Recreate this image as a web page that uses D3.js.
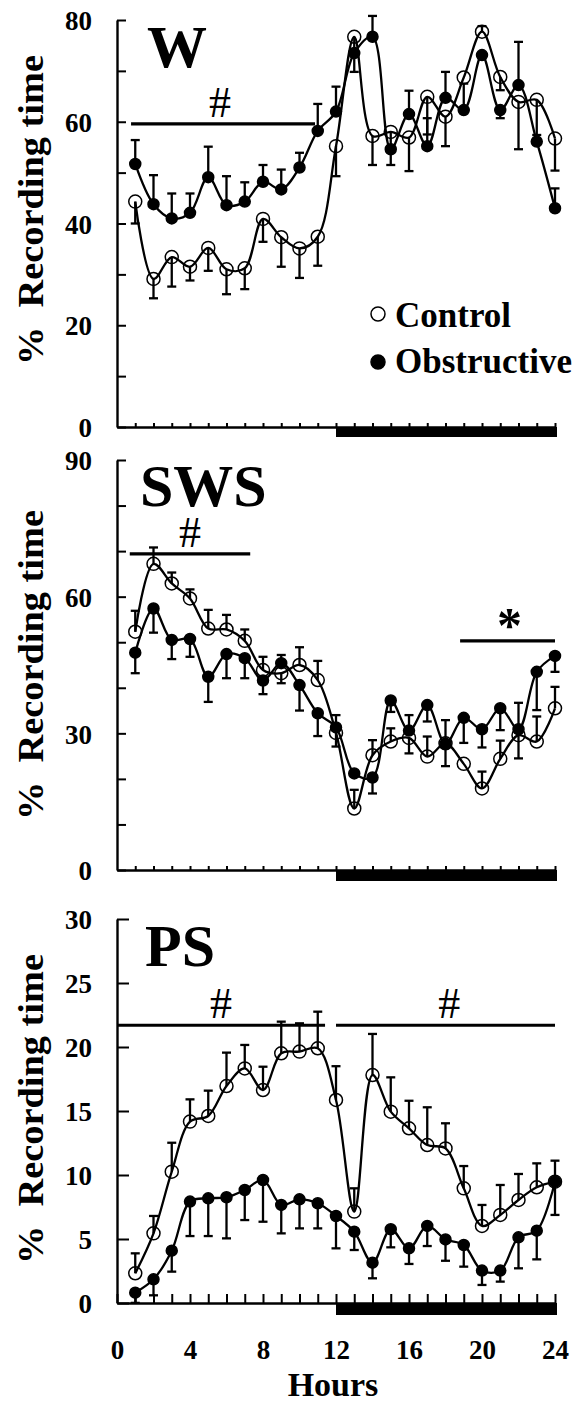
<!DOCTYPE html>
<html>
<head>
<meta charset="utf-8">
<script src="https://cdn.jsdelivr.net/npm/d3@7"></script>
<style>
  body { margin: 0; background: #fff; }
  text { font-family: "Liberation Serif", "Times New Roman", serif; font-weight: bold; fill: #000; }
</style>
</head>
<body>
<div id="chart"></div>
<script>
// hours of recording
const hours = d3.range(1, 25);
const xTickLabels = [0, 4, 8, 12, 16, 20, 24];

// W (wakefulness), % recording time; err = signed SEM (+ up, - down, null none)
const wControl = [44.3, 29.1, 33.4, 31.5, 35.2, 31.0, 31.2, 40.9, 37.3, 35.1, 37.4, 55.2,
                  76.7, 57.2, 58.0, 56.9, 64.9, 61.0, 68.7, 77.7, 68.8, 63.9, 64.3, 56.7];
const wControlErr = [-4.3, -3.8, -5.8, -2.7, -4.5, -4.9, -4.1, -4.5, -5.8, -5.8, -5.7, -5.9,
                     -6.9, -5.7, -6.5, -6.6, -7.4, -5.8, null, 1.1, -2.6, -9.3, -6.9, -6.3];
const wObstr = [51.7, 43.8, 41.0, 42.1, 49.1, 43.6, 44.3, 48.2, 46.7, 51.0, 58.2, 62.0,
                73.5, 76.7, 54.6, 61.5, 55.2, 64.7, 62.3, 73.1, 62.3, 67.2, 56.1, 43.0];
const wObstrErr = [4.7, 5.7, 4.9, 3.8, 6.0, 5.7, 3.8, 3.3, 3.9, 2.9, 5.3, 4.9,
                   null, 4.1, null, 4.6, 5.5, 5.1, 5.2, null, -1.6, 8.5, null, 3.9];

// SWS (slow wave sleep)
const swsControl = [52.3, 67.2, 62.9, 59.6, 53.0, 52.8, 50.3, 43.9, 43.2, 45.0, 41.7, 30.1,
                    13.5, 25.2, 28.2, 29.0, 24.9, 27.8, 23.3, 17.9, 24.4, 29.6, 28.2, 35.5];
const swsControlErr = [4.6, 3.6, 2.4, 2.0, 4.1, 3.2, 2.5, 2.9, -2.2, 3.9, 4.2, -3.0,
                       4.1, 3.3, 2.9, -3.4, 4.4, -5.0, null, 3.7, 4.0, -5.1, 5.5, 4.7];
const swsObstr = [47.7, 57.4, 50.5, 50.7, 42.4, 47.4, 46.5, 41.6, 45.4, 40.6, 34.4, 31.3,
                  21.2, 20.3, 37.2, 30.6, 36.2, 27.7, 33.4, 30.9, 35.5, 30.9, 43.5, 47.0];
const swsObstrErr = [-4.5, -5.3, -4.2, -3.9, -5.5, -5.3, -4.4, -3.0, 1.8, -5.6, -5.0, 2.7,
                     null, -3.5, -2.5, 3.4, -3.6, 5.2, -5.5, -4.0, -4.8, 5.8, -8.4, -3.5];

// PS (paradoxical sleep)
const psControl = [2.32, 5.44, 10.26, 14.17, 14.61, 16.95, 18.33, 16.64, 19.51, 19.64, 19.9, 15.86,
                   7.14, 17.81, 14.95, 13.65, 12.34, 12.08, 8.96, 6.02, 6.88, 8.05, 9.04, 9.48];
const psControlErr = [1.56, 1.36, 2.26, 1.74, 1.98, 2.61, 1.83, 1.82, 2.47, 2.21, 2.86, 2.64,
                      1.82, 3.21, 2.68, 2.15, 2.95, 1.96, 1.74, 1.64, 2.34, 2.03, 1.87, 1.64];
const psObstr = [0.81, 1.85, 4.09, 7.92, 8.18, 8.26, 8.83, 9.61, 7.66, 8.1, 7.79, 6.8,
                 5.57, 3.15, 5.76, 4.27, 6.02, 4.97, 4.53, 2.53, 2.53, 5.13, 5.65, 9.48];
const psObstrErr = [-0.8, -1.25, -1.64, -2.69, -2.95, -3.21, -2.35, -3.26, -2.22, -2.27, -1.96, -2.53,
                    -1.43, -1.22, -1.41, -1.22, -1.57, -1.67, -1.69, -1.12, -0.86, -2.42, -2.24, -2.6];

// significance bars: hour span, level, symbol
const wSig = [{ from: 0.77, to: 10.85, level: 59.6, mark: "#", at: 5.65 }];
const swsSig = [{ from: 0.7, to: 7.3, level: 69.4, mark: "#", at: 4.0 },
                { from: 18.8, to: 24.0, level: 50.3, mark: "*", at: 21.5 }];
const psSig = [{ from: 0, to: 11.4, level: 21.7, mark: "#", at: 5.7 },
               { from: 12, to: 24, level: 21.7, mark: "#", at: 18.2 }];

const width = 587, height = 1403;
const svg = d3.select("#chart").append("svg")
    .attr("width", width)
    .attr("height", height);

const x = d3.scaleLinear().domain([0, 24]).range([117, 555]);

const panels = [
    { name: "W", max: 80, minor: 10, major: 20, top: 20, bottom: 427, tick: 4, bar: 10,
      titleX: 147, titleY: 67, labelY: 210,
      control: wControl, controlErr: wControlErr, obstr: wObstr, obstrErr: wObstrErr, sig: wSig },
    { name: "SWS", max: 90, minor: 10, major: 30, top: 460, bottom: 870, tick: 4, bar: 11,
      titleX: 140, titleY: 506, labelY: 665,
      control: swsControl, controlErr: swsControlErr, obstr: swsObstr, obstrErr: swsObstrErr, sig: swsSig },
    { name: "PS", max: 30, minor: 5, major: 5, top: 919, bottom: 1303, tick: 9, bar: 12,
      titleX: 145, titleY: 966, labelY: 1109, xLabels: true,
      control: psControl, controlErr: psControlErr, obstr: psObstr, obstrErr: psObstrErr, sig: psSig }
];

const line = d3.line().curve(d3.curveCatmullRom);

panels.forEach(p => {
    const y = d3.scaleLinear().domain([0, p.max]).range([p.bottom, p.top]);
    const g = svg.append("g");

    // dark phase bar
    g.append("rect")
        .attr("x", x(12))
        .attr("y", p.bottom)
        .attr("width", x(24) - x(12) + 2)
        .attr("height", p.bar)
        .attr("fill", "#000");

    // y axis, ticks pointing inward
    const yAxis = d3.axisLeft(y)
        .tickValues(d3.range(0, p.max + 0.01, p.minor))
        .tickSize(p.xLabels ? -12 : -9)
        .tickSizeOuter(0)
        .tickPadding(25)
        .tickFormat(d => d % p.major === 0 ? d : "");
    const ya = g.append("g").attr("transform", `translate(${x(0)},0)`).call(yAxis);
    ya.select(".domain").attr("stroke-width", 2.4);
    ya.selectAll(".tick line").attr("stroke-width", 2);
    ya.selectAll("text").style("font-size", "27px").attr("dy", "0.36em");

    // x axis, ticks pointing up
    const xAxis = d3.axisBottom(x)
        .tickValues(p.xLabels ? d3.range(0, 25) : d3.range(1, 25))
        .tickSize(-p.tick)
        .tickSizeOuter(0)
        .tickPadding(37)
        .tickFormat(d => p.xLabels && xTickLabels.includes(d) ? d : "");
    const xa = g.append("g").attr("transform", `translate(0,${p.bottom})`).call(xAxis);
    xa.select(".domain").attr("stroke-width", 2.4);
    xa.selectAll(".tick line").attr("stroke-width", 2);
    xa.selectAll("text").style("font-size", "27px");

    // panel title
    g.append("text")
        .attr("x", p.titleX)
        .attr("y", p.titleY)
        .style("font-size", "60px")
        .text(p.name);

    // y label
    g.append("text")
        .attr("transform", `translate(43,${p.labelY}) rotate(-90)`)
        .attr("text-anchor", "middle")
        .attr("textLength", 310)
        .attr("lengthAdjust", "spacingAndGlyphs")
        .style("font-size", "35px")
        .style("white-space", "pre")
        .text("%  Recording time");

    // significance bars
    p.sig.forEach(s => {
        g.append("line")
            .attr("x1", x(s.from)).attr("x2", x(s.to))
            .attr("y1", y(s.level)).attr("y2", y(s.level))
            .attr("stroke", "#000").attr("stroke-width", 3.2);
        g.append("text")
            .attr("x", x(s.at))
            .attr("y", s.mark === "#" ? y(s.level) - 7 : y(s.level) + 1)
            .attr("text-anchor", "middle")
            .style("font-size", s.mark === "#" ? "44px" : "50px")
            .style("font-weight", s.mark === "#" ? "normal" : "bold")
            .text(s.mark);
    });

    const series = [
        { values: p.control, err: p.controlErr, filled: false },
        { values: p.obstr, err: p.obstrErr, filled: true }
    ];

    series.forEach(s => {
        g.append("path")
            .attr("d", line(hours.map((h, i) => [x(h), y(s.values[i])])))
            .attr("fill", "none")
            .attr("stroke", "#000")
            .attr("stroke-width", 2.3);
    });

    series.forEach(s => {
        const eb = g.append("g").selectAll("g")
            .data(hours.map((h, i) => ({ h, v: s.values[i], e: s.err[i] })).filter(d => d.e != null))
            .join("g");
        eb.append("line")
            .attr("x1", d => x(d.h)).attr("x2", d => x(d.h))
            .attr("y1", d => y(d.v)).attr("y2", d => y(d.v + d.e))
            .attr("stroke", "#000").attr("stroke-width", 2.3);
        eb.append("line")
            .attr("x1", d => x(d.h) - 4.5).attr("x2", d => x(d.h) + 4.5)
            .attr("y1", d => y(d.v + d.e)).attr("y2", d => y(d.v + d.e))
            .attr("stroke", "#000").attr("stroke-width", 2.3);
    });

    series.forEach(s => {
        g.append("g").selectAll("circle")
            .data(hours.map((h, i) => ({ h, v: s.values[i] })))
            .join("circle")
            .attr("cx", d => x(d.h))
            .attr("cy", d => y(d.v))
            .attr("r", s.filled ? 5.5 : 6.5)
            .attr("fill", s.filled ? "#000" : "none")
            .attr("stroke", "#000")
            .attr("stroke-width", 1.5);
    });
});

// legend inside W panel
const legend = svg.append("g");
[{ label: "Control", filled: false, cy: 314, ty: 327 },
 { label: "Obstructive", filled: true, cy: 362, ty: 373 }].forEach(l => {
    legend.append("circle")
        .attr("cx", 378).attr("cy", l.cy).attr("r", 7)
        .attr("fill", l.filled ? "#000" : "none")
        .attr("stroke", "#000").attr("stroke-width", 1.5);
    legend.append("text")
        .attr("x", 395).attr("y", l.ty)
        .style("font-size", "35px")
        .text(l.label);
});

// x axis title
svg.append("text")
    .attr("x", 333)
    .attr("y", 1396)
    .attr("text-anchor", "middle")
    .style("font-size", "34px")
    .text("Hours");
</script>
</body>
</html>
